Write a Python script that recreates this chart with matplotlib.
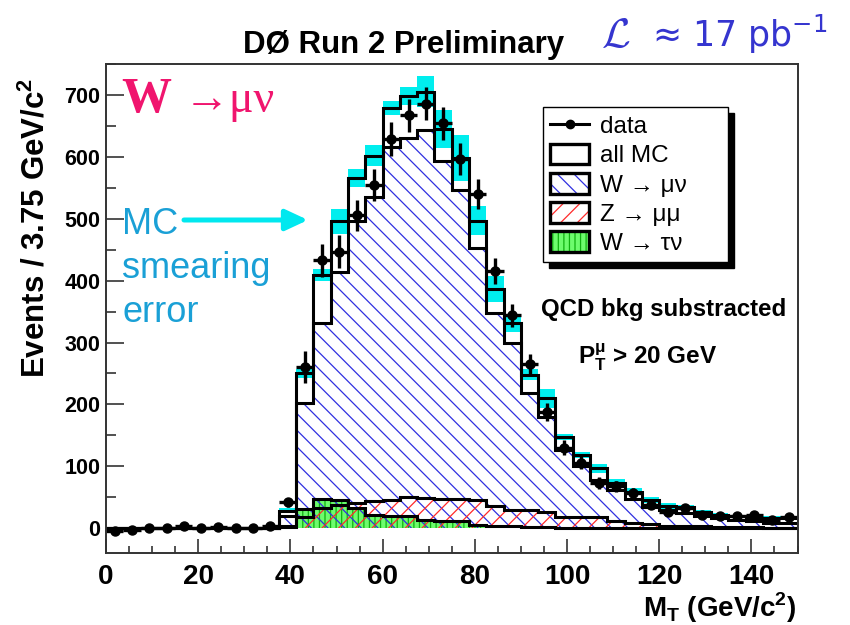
import numpy as np
import matplotlib
matplotlib.use("Agg")
import matplotlib.pyplot as plt
from matplotlib.patches import Patch
from matplotlib.lines import Line2D
from matplotlib.legend_handler import HandlerTuple
from matplotlib.font_manager import FontProperties

# ---------------- data (40 bins of 3.75 GeV from 0 to 150) ----------------
bin_width = 3.75
n_bins = 40

data = [-5, -3, 0, 1, 3, 0, 2, 0, 0, 3,
        42, 261, 433, 447, 506, 555, 629, 667, 686, 654,
        596, 540, 416, 344, 265, 188, 130, 106, 73, 68,
        57, 38, 26, 32, 22, 19, 20, 22, 14, 18]
data_err = [4, 4, 4, 4, 4, 4, 4, 4, 4, 4,
            7, 26, 27, 26, 25, 26, 27, 27, 27, 27,
            26, 25, 21, 19, 16, 14, 12, 11, 9, 9,
            8, 7, 6, 6, 5, 5, 5, 5, 4, 5]
all_mc = [0, 0, 0, 0, 0, 0, 0, 0, 0, 0,
          28, 250, 409, 496, 566, 602, 679, 698, 705, 645,
          598, 497, 386, 331, 248, 210, 147, 118, 97, 73,
          59, 45, 36, 34, 26, 22, 19, 16, 16, 16]
mc_err = [0, 0, 0, 0, 0, 0, 0, 0, 0, 0,
          4, 8, 10, 20, 15, 17, 12, 15, 25, 31,
          37, 23, 21, 14, 9, 15, 5, 5, 7, 6,
          6, 5, 5, 4, 3, 3, 3, 3, 3, 3]
w_munu = [0, 0, 0, 0, 0, 0, 0, 0, 0, 0,
          19, 203, 331, 414, 497, 535, 616, 630, 644, 594,
          546, 452, 347, 299, 218, 180, 126, 100, 78, 62,
          47, 35, 29, 25, 19, 16, 14, 11, 9, 9]
z_mumu = [0, 0, 0, 0, 0, 0, 0, 0, 0, 0,
          2, 18, 33, 38, 41, 44, 45, 50, 49, 47,
          47, 45, 36, 30, 30, 26, 18, 18, 18, 11,
          9, 7, 4, 3, 3, 2, 2, 2, 1, 1]
w_taunu = [0, 0, 0, 0, 0, 0, 0, 0, 0, 0,
           4, 31, 47, 46, 32, 22, 20, 19, 14, 11,
           11, 6, 4, 3, 2, 2, 1, 1, 1, 0,
           0, 0, 0, 0, 0, 0, 0, 0, 0, 0]

x_ticks = [0, 20, 40, 60, 80, 100, 120, 140]
y_ticks = [0, 100, 200, 300, 400, 500, 600, 700]
legend_labels = ['data', 'all MC', 'W → μν', 'Z → μμ', 'W → τν']

# ---------------- fonts ----------------
SANS = 'Liberation Sans'
plt.rcParams['font.family'] = [SANS, 'DejaVu Sans']
plt.rcParams['font.weight'] = 'bold'
plt.rcParams['hatch.linewidth'] = 0.9

W, H = 850, 625
fig = plt.figure(figsize=(W / 100, H / 100), dpi=100)


def fx(px):
    return px / W


def fy(py):
    return 1 - py / H


ax = fig.add_axes([fx(106), fy(553), fx(797.5) - fx(106), fy(64) - fy(553)])

edges = np.arange(n_bins + 1) * bin_width
centers = edges[:-1] + bin_width / 2
all_mc_a = np.array(all_mc, float)
mc_err_a = np.array(mc_err, float)

CYAN = '#00eeee'
BLUE_H = '#3030e0'
RED_H = '#ff2a2a'
GREEN_F = '#6dfc6d'
GREEN_H = '#10b010'

# all MC white body
ax.stairs(all_mc_a, edges, baseline=0, fill=True, facecolor='white', edgecolor='none', lw=0, zorder=1)
# MC smearing error band
ax.stairs(all_mc_a + mc_err_a, edges, baseline=all_mc_a - mc_err_a, fill=True,
          facecolor=CYAN, edgecolor='none', lw=0, zorder=2)
# W -> tau nu (green)
ax.stairs(w_taunu, edges, baseline=0, fill=True, facecolor=GREEN_F, edgecolor=GREEN_H,
          hatch='|||', lw=0, zorder=3)
# W -> mu nu (blue hatch)
ax.stairs(w_munu, edges, baseline=0, fill=True, facecolor='none', edgecolor=BLUE_H,
          hatch='\\\\', lw=0, zorder=4)
# Z -> mu mu (red hatch)
ax.stairs(z_mumu, edges, baseline=0, fill=True, facecolor='none', edgecolor=RED_H,
          hatch='//', lw=0, zorder=5)
# outlines
for vals in (all_mc, w_munu, z_mumu, w_taunu):
    ax.stairs(vals, edges, baseline=0, color='black', lw=2.2, zorder=6)

# data points
ax.errorbar(centers, data, yerr=data_err, xerr=bin_width / 2, fmt='o', color='black',
            ms=6.5, elinewidth=2.4, capsize=0, zorder=7)

# ---------------- axes ----------------
ax.set_xlim(0, 150)
ax.set_ylim(-40, 750)
ax.set_xticks(x_ticks)
ax.set_xticks(np.arange(0, 151, 5), minor=True)
ax.set_yticks(y_ticks)
ax.set_yticks(np.arange(0, 751, 50), minor=True)
ax.tick_params(axis='both', which='both', direction='in', top=False, right=False, width=1.2, color='#333333')
ax.tick_params(axis='x', which='major', length=10, labelsize=20, pad=8)
ax.tick_params(axis='x', which='minor', length=5)
ax.tick_params(axis='y', which='major', length=13, labelsize=15.5, pad=4)
ax.tick_params(axis='y', which='minor', length=7)
for sp in ax.spines.values():
    sp.set_linewidth(1.4)
    sp.set_color('#333333')
    sp.set_zorder(8)

# ---------------- texts ----------------
fig.text(fx(404), fy(53), 'DØ Run 2 Preliminary', ha='center', va='baseline', fontsize=22.5, fontweight='bold')
fig.text(fx(36), fy(228), 'Events / 3.75 GeV/c$^\\mathregular{2}$', rotation=90, ha='center', va='center',
         fontsize=22.5, fontweight='bold')
fig.text(fx(796), fy(617), 'M$_\\mathregular{T}$ (GeV/c$^\\mathregular{2}$)', ha='right', va='baseline',
         fontsize=20, fontweight='bold')

LUMCOL = '#3535cf'
fig.text(fx(601), fy(47), '$\\mathcal{L}$', ha='left', va='baseline', fontsize=30,
         color=LUMCOL, math_fontfamily='cm')
fig.text(fx(652), fy(47), '≈ 17 pb$^\\mathregular{-1}$', ha='left', va='baseline', fontsize=25,
         color=LUMCOL, family='DejaVu Sans', fontweight='normal')

PINK = '#f0156e'
fig.text(fx(121), fy(112), 'W', ha='left', va='baseline', fontsize=36, color=PINK,
         family='Liberation Serif', fontweight='bold')
fig.text(fx(184), fy(112), '→μν', ha='left', va='baseline', fontsize=33, color=PINK,
         family=['Liberation Serif', 'DejaVu Serif'], fontweight='normal')

MCCOL = '#1aa0d6'
for s, yb in (('MC', 234), ('smearing', 278), ('error', 322)):
    fig.text(fx(122), fy(yb), s, ha='left', va='baseline', fontsize=26, color=MCCOL,
             family='Liberation Sans', fontweight='normal')
ax.annotate('', xy=(fig.transFigure.transform((fx(308), fy(220)))), xycoords='figure pixels',
            xytext=(fig.transFigure.transform((fx(184), fy(220)))), textcoords='figure pixels',
            arrowprops=dict(arrowstyle='-|>,head_length=0.9,head_width=0.42', lw=3.6, color='#00e8ef',
                            mutation_scale=15, shrinkA=0, shrinkB=0))

fig.text(fx(541), fy(316), 'QCD bkg substracted', ha='left', va='baseline', fontsize=17.3, fontweight='bold')
fig.text(fx(578), fy(364), 'P$^\\mathregular{μ}_\\mathregular{T}$ > 20 GeV', ha='left', va='baseline',
         fontsize=17.5, fontweight='bold')

# ---------------- legend ----------------
h_data = Line2D([], [], color='black', marker='o', ms=6, lw=2.2)
h_all = Patch(facecolor='white', edgecolor='black', lw=2.4)
h_w = (Patch(facecolor='white', edgecolor=BLUE_H, hatch='\\\\', lw=0),
       Patch(facecolor='none', edgecolor='black', lw=2.4))
h_z = (Patch(facecolor='white', edgecolor=RED_H, hatch='//', lw=0),
       Patch(facecolor='none', edgecolor='black', lw=2.4))
h_t = (Patch(facecolor=GREEN_F, edgecolor=GREEN_H, hatch='|||', lw=0),
       Patch(facecolor='none', edgecolor='black', lw=2.4))
leg = ax.legend([h_data, h_all, h_w, h_z, h_t], legend_labels,
                handler_map={tuple: HandlerTuple(ndivide=1, pad=0)},
                loc='upper left', bbox_to_anchor=(0.632, 0.812, 0.2675, 0.1), mode='expand',
                borderaxespad=0,
                prop=FontProperties(family=[SANS, 'DejaVu Sans'], size=17.5, weight='normal'),
                handlelength=1.6, handleheight=0.95, handletextpad=0.45, labelspacing=0.22,
                borderpad=0.3, fancybox=False, framealpha=1, edgecolor='black',
                shadow={'ox': 4, 'oy': -4, 'facecolor': 'black', 'edgecolor': 'black', 'alpha': 1})
leg.get_frame().set_linewidth(1.0)
leg.set_zorder(9)

fig.savefig('out.png', dpi=100)
